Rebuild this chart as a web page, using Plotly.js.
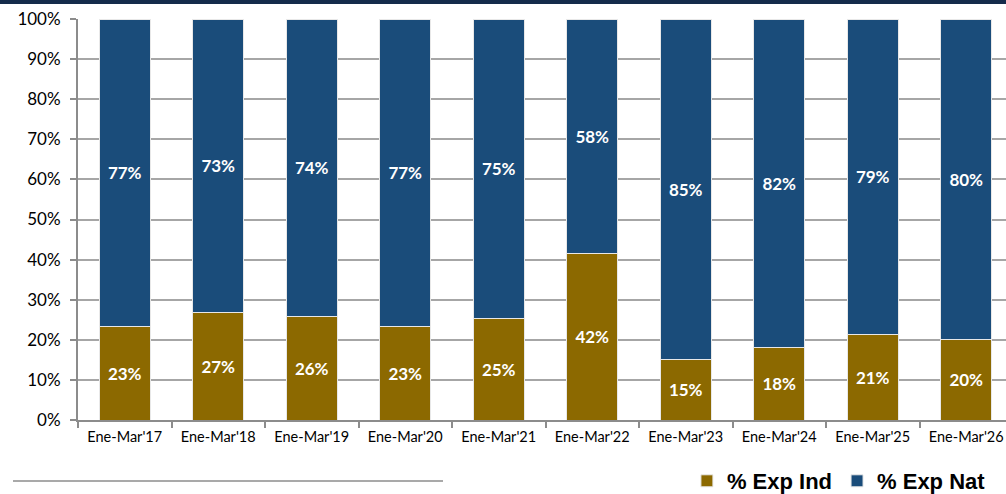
<!DOCTYPE html>
<html><head><meta charset="utf-8">
<script src="https://cdn.plot.ly/plotly-3.0.1.min.js"></script>
<style>html,body{margin:0;padding:0;background:#fff;}#chart{width:1006px;height:494px;}</style>
</head><body><div id="chart"></div>
<script>
var categories = ["Ene-Mar'17","Ene-Mar'18","Ene-Mar'19","Ene-Mar'20","Ene-Mar'21","Ene-Mar'22","Ene-Mar'23","Ene-Mar'24","Ene-Mar'25","Ene-Mar'26"];
var expInd = [23.2, 26.7, 25.7, 23.2, 25.4, 41.6, 15.0, 18.2, 21.2, 20.0];
var expNat = [76.8, 73.3, 74.3, 76.8, 74.6, 58.4, 85.0, 81.8, 78.8, 80.0];
var yTicks = [0,10,20,30,40,50,60,70,80,90,100];

function lbl(a){ return a.map(function(v){ return Math.round(v) + '%'; }); }

var labelFont = {family: 'Lato, "Open Sans", sans-serif', size: 17, color: '#ffffff', weight: 'bold'};

var traces = [
  {type:'bar', name:'% Exp Ind', x:categories, y:expInd, text:lbl(expInd),
   textposition:'inside', insidetextanchor:'middle', textangle:0,
   textfont:labelFont, hoverinfo:'skip',
   marker:{color:'#8c6900', line:{color:'#e8e8e8', width:1}}},
  {type:'bar', name:'% Exp Nat', x:categories, y:expNat, text:lbl(expNat),
   textposition:'inside', insidetextanchor:'middle', textangle:0,
   textfont:labelFont, hoverinfo:'skip',
   marker:{color:'#1a4c7a', line:{color:'#e8e8e8', width:1}}}
];

var H = 401;
var layout = {
  width:1006, height:494,
  margin:{l:78, r:0, t:19, b:74, pad:0, autoexpand:false},
  barmode:'stack', bargap:0.45,
  paper_bgcolor:'#ffffff', plot_bgcolor:'#ffffff',
  font:{family:'Lato, "Open Sans", sans-serif', color:'#000'},
  showlegend:true,
  legend:{orientation:'h', xref:'container', yref:'container', x:0.985, xanchor:'right', y:13/494, yanchor:'middle',
    font:{family:'"Liberation Sans", Arial, sans-serif', size:22, color:'#000', weight:'bold'},
    itemwidth:30, traceorder:'normal', tracegroupgap:0, bgcolor:'rgba(0,0,0,0)'},
  xaxis:{type:'category', range:[-0.5, 9.425], tickson:'boundaries', ticks:'outside', ticklen:6,
    tickcolor:'#8c8c8c', tickwidth:2, showline:true, linecolor:'#8c8c8c', linewidth:2,
    showgrid:false, tickfont:{size:14.5, color:'#000'}, ticklabelstandoff:3,
    fixedrange:true, zeroline:false, automargin:false},
  yaxis:{range:[0,100], tickvals:yTicks, ticktext:yTicks.map(function(v){return v+'%';}),
    ticks:'outside', ticklen:6, tickcolor:'#8c8c8c', tickwidth:2, showline:true,
    linecolor:'#8c8c8c', linewidth:2, showgrid:true, gridcolor:'#a6a6a6', gridwidth:2,
    tickfont:{size:17, color:'#000'}, ticklabelstandoff:6, zeroline:false, fixedrange:true, automargin:false},
  shapes:[
    {type:'rect', xref:'paper', yref:'paper', x0:-78/928, x1:1, y0:1+15/H, y1:1+20/H,
     fillcolor:'#152b4b', line:{width:0}, layer:'above'},
    {type:'line', xref:'paper', yref:'paper', x0:(13-78)/928, x1:(443-78)/928,
     y0:-61/H, y1:-61/H, line:{color:'#8c8c8c', width:1.5}}
  ]
};
Plotly.newPlot('chart', traces, layout, {staticPlot:true, displayModeBar:false});
</script></body></html>
